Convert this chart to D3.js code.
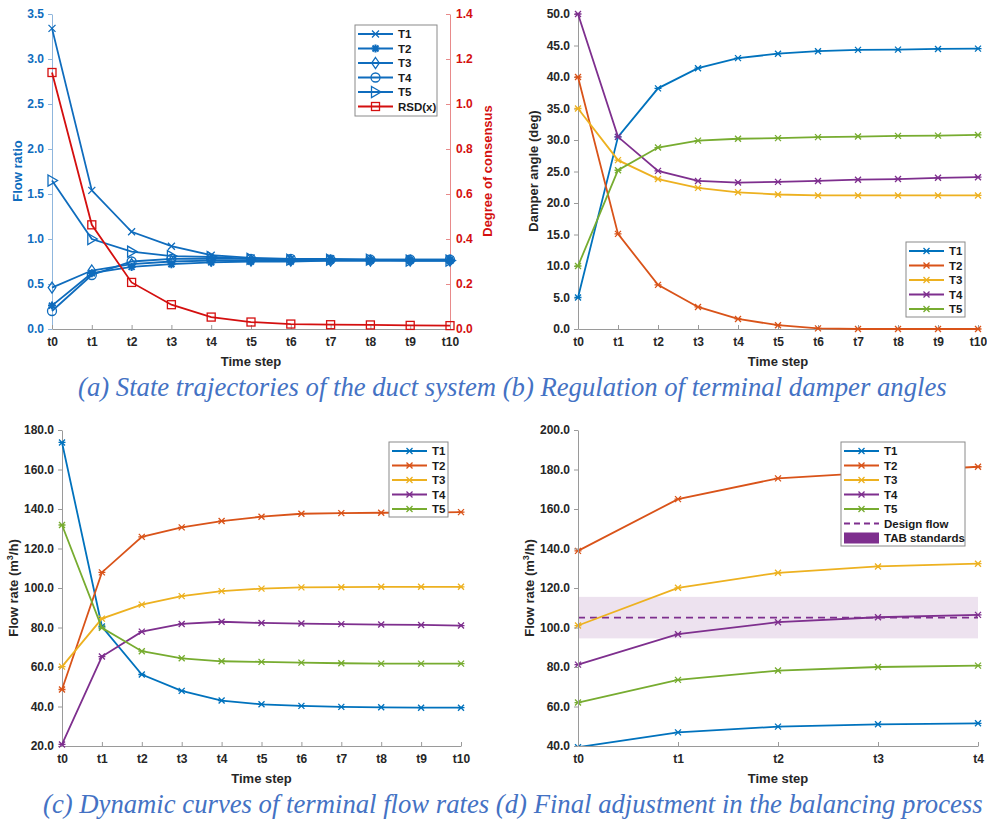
<!DOCTYPE html>
<html>
<head>
<meta charset="utf-8">
<script src="https://cdn.jsdelivr.net/npm/d3@7"></script>
<style>
  body { margin: 0; background: #fff; }
  text { font-family: "Liberation Sans", Arial, sans-serif; }
</style>
</head>
<body>
<script>
// time steps
var steps = ['t0','t1','t2','t3','t4','t5','t6','t7','t8','t9','t10'];
var stepsFinal = ['t0','t1','t2','t3','t4'];

// (a) flow ratio + RSD
var ratioT1 = [3.34, 1.54, 1.08, 0.92, 0.82, 0.79, 0.78, 0.78, 0.77, 0.77, 0.77];
var ratioT2 = [0.26, 0.62, 0.69, 0.72, 0.74, 0.75, 0.75, 0.76, 0.76, 0.76, 0.76];
var ratioT3 = [0.46, 0.65, 0.72, 0.75, 0.76, 0.76, 0.76, 0.76, 0.76, 0.76, 0.76];
var ratioT4 = [0.20, 0.60, 0.75, 0.78, 0.78, 0.78, 0.78, 0.77, 0.77, 0.77, 0.77];
var ratioT5 = [1.65, 1.00, 0.86, 0.81, 0.80, 0.78, 0.77, 0.77, 0.77, 0.76, 0.76];
var rsd     = [1.14, 0.463, 0.207, 0.108, 0.053, 0.031, 0.022, 0.019, 0.018, 0.016, 0.015];

// (b) damper angles
var angleT1 = [5.0, 30.5, 38.2, 41.4, 43.0, 43.7, 44.1, 44.3, 44.35, 44.45, 44.5];
var angleT2 = [40.0, 15.1, 7.0, 3.5, 1.6, 0.6, 0.1, 0.0, 0.0, 0.0, 0.0];
var angleT3 = [35.0, 26.8, 23.8, 22.4, 21.7, 21.35, 21.2, 21.2, 21.2, 21.2, 21.2];
var angleT4 = [50.0, 30.5, 25.1, 23.5, 23.25, 23.35, 23.5, 23.7, 23.8, 24.0, 24.1];
var angleT5 = [10.0, 25.2, 28.8, 29.9, 30.2, 30.3, 30.45, 30.55, 30.65, 30.7, 30.8];

// (c) flow rates
var flowT1 = [173.7, 80.5, 56.2, 47.9, 43.0, 41.1, 40.3, 39.8, 39.6, 39.4, 39.4];
var flowT2 = [48.6, 107.9, 125.9, 130.7, 133.9, 136.1, 137.6, 137.9, 138.1, 138.2, 138.4];
var flowT3 = [60.2, 84.5, 91.6, 95.9, 98.4, 99.7, 100.3, 100.4, 100.6, 100.6, 100.6];
var flowT4 = [20.8, 65.3, 77.9, 81.8, 82.9, 82.3, 82.0, 81.7, 81.5, 81.3, 81.0];
var flowT5 = [131.9, 79.8, 68.0, 64.4, 62.9, 62.6, 62.2, 61.9, 61.7, 61.7, 61.7];

// (d) final adjustment
var finalT1 = [39.4, 46.9, 49.8, 51.0, 51.5];
var finalT2 = [138.8, 165.0, 175.5, 178.5, 181.4];
var finalT3 = [101.0, 120.1, 127.7, 130.9, 132.3];
var finalT4 = [81.2, 96.6, 102.7, 105.2, 106.4];
var finalT5 = [62.0, 73.5, 78.2, 80.0, 80.7];
var designFlow = 105;
var tabBand = [94.5, 115.5];

var names = ['T1','T2','T3','T4','T5'];
var colors = ['#0072BD','#D95319','#EDB120','#7E2F8E','#77AC30'];
var blueA = '#0f6cbd', redA = '#d40f0f';
var tickColor = '#262626', axisGray = '#9a9a9a';

var svg = d3.select('body').append('svg')
  .attr('width', 987).attr('height', 821)
  .style('background', '#fff');

function marker(g, type, x, y, color) {
  var m = g.append('g').attr('transform', 'translate(' + x + ',' + y + ')')
    .attr('stroke', color).attr('fill', 'none').attr('stroke-width', 1.3);
  if (type === 'x') {
    m.append('path').attr('d', 'M-3.5,-3.5L3.5,3.5M-3.5,3.5L3.5,-3.5');
  } else if (type === 'ast') {
    m.append('path').attr('d', 'M-3,-3L3,3M-3,3L3,-3M-3.5,0L3.5,0');
  } else if (type === 'star') {
    m.append('path').attr('d', 'M-4,0L4,0M0,-4L0,4M-3,-3L3,3M-3,3L3,-3').attr('stroke-width', 2);
  } else if (type === 'diamond') {
    m.append('path').attr('d', 'M0,-5.5L3.8,0L0,5.5L-3.8,0Z');
  } else if (type === 'circle') {
    m.append('circle').attr('r', 4.5);
  } else if (type === 'tri') {
    m.append('path').attr('d', 'M-4,-5.5L5.5,0L-4,5.5Z');
  } else if (type === 'square') {
    m.append('rect').attr('x', -4).attr('y', -4).attr('width', 8).attr('height', 8);
  }
}

function series(g, x, y, labels, values, color, type, width) {
  var pts = labels.map(function (l, i) { return [x(l), y(values[i])]; });
  g.append('path')
    .attr('d', d3.line()(pts))
    .attr('fill', 'none').attr('stroke', color).attr('stroke-width', width || 1.8);
  pts.forEach(function (p) { marker(g, type, p[0], p[1], color); });
}

function styleAxis(a, lineColor, textColor) {
  a.selectAll('path.domain').attr('stroke', lineColor);
  a.selectAll('.tick line').attr('stroke', lineColor);
  a.selectAll('.tick text')
    .attr('fill', textColor)
    .style('font-size', '12px').style('font-weight', 'bold');
}

function xAxis(x, yPos, labels, label) {
  var a = svg.append('g').attr('transform', 'translate(0,' + yPos + ')')
    .call(d3.axisBottom(x).tickSize(-4).tickSizeOuter(0).tickPadding(8));
  styleAxis(a, axisGray, tickColor);
  var r = x.range();
  svg.append('text')
    .attr('x', (r[0] + r[1]) / 2).attr('y', yPos + 37)
    .attr('text-anchor', 'middle')
    .style('font-size', '13px').style('font-weight', 'bold').attr('fill', tickColor)
    .text(label);
}

function yLabel(x, yMid, txt, color) {
  return svg.append('text')
    .attr('transform', 'translate(' + x + ',' + yMid + ') rotate(-90)')
    .attr('text-anchor', 'middle')
    .style('font-size', '13px').style('font-weight', 'bold')
    .attr('fill', color).text(txt);
}

function legend(x0, y0, w, h, rows) {
  var lg = svg.append('g');
  lg.append('rect').attr('x', x0).attr('y', y0).attr('width', w).attr('height', h)
    .attr('fill', '#fff').attr('stroke', '#8a8a8a').attr('stroke-width', 1);
  rows.forEach(function (r, i) {
    var yy = y0 + 9 + i * 14.5;
    if (r.kind === 'patch') {
      lg.append('rect').attr('x', x0 + 3).attr('y', yy - 5.5).attr('width', 35).attr('height', 11)
        .attr('fill', r.color);
    } else {
      lg.append('line').attr('x1', x0 + 3).attr('x2', x0 + 38).attr('y1', yy).attr('y2', yy)
        .attr('stroke', r.color).attr('stroke-width', r.width || 1.8)
        .attr('stroke-dasharray', r.kind === 'dash' ? '6,4' : null);
      if (r.marker) marker(lg, r.marker, x0 + 20.5, yy, r.color);
    }
    lg.append('text').attr('x', x0 + 43).attr('y', yy + 4)
      .style('font-size', '11.5px').style('font-weight', 'bold').attr('fill', '#1a1a1a')
      .text(r.name);
  });
}

// ---------- (a) ----------
var xa = d3.scalePoint().domain(steps).range([52, 450]);
var ya = d3.scaleLinear().domain([0, 3.5]).range([329, 14]);
var yaR = d3.scaleLinear().domain([0, 1.4]).range([329, 14]);

var axA = svg.append('g').attr('transform', 'translate(52,0)')
  .call(d3.axisLeft(ya).tickValues(d3.range(0, 3.51, 0.5)).tickFormat(d3.format('.1f'))
    .tickSize(4).tickSizeOuter(0).tickPadding(4));
styleAxis(axA, '#8fb6dd', blueA);
var axAR = svg.append('g').attr('transform', 'translate(450,0)')
  .call(d3.axisRight(yaR).tickValues(d3.range(0, 1.41, 0.2)).tickFormat(d3.format('.1f'))
    .tickSize(-4).tickSizeOuter(0).tickPadding(6));
styleAxis(axAR, '#e88a8a', redA);
xAxis(xa, 329, steps, 'Time step');
yLabel(22, 171, 'Flow ratio', blueA);
yLabel(492, 171, 'Degree of consensus', redA);

var gA = svg.append('g');
series(gA, xa, ya, steps, ratioT1, blueA, 'x');
series(gA, xa, ya, steps, ratioT2, blueA, 'star');
series(gA, xa, ya, steps, ratioT3, blueA, 'diamond');
series(gA, xa, ya, steps, ratioT4, blueA, 'circle');
series(gA, xa, ya, steps, ratioT5, blueA, 'tri');
series(gA, xa, yaR, steps, rsd, redA, 'square');

legend(355, 25, 82, 91, [
  {name: 'T1', color: blueA, marker: 'x'},
  {name: 'T2', color: blueA, marker: 'star'},
  {name: 'T3', color: blueA, marker: 'diamond'},
  {name: 'T4', color: blueA, marker: 'circle'},
  {name: 'T5', color: blueA, marker: 'tri'},
  {name: 'RSD(x)', color: redA, marker: 'square'}
]);

// ---------- (b) ----------
var xb = d3.scalePoint().domain(steps).range([578, 978]);
var yb = d3.scaleLinear().domain([0, 50]).range([329, 14]);
var axB = svg.append('g').attr('transform', 'translate(578,0)')
  .call(d3.axisLeft(yb).tickValues(d3.range(0, 50.1, 5)).tickFormat(d3.format('.1f'))
    .tickSize(4).tickSizeOuter(0).tickPadding(4));
styleAxis(axB, axisGray, tickColor);
xAxis(xb, 329, steps, 'Time step');
yLabel(538, 171, 'Damper angle (deg)', tickColor);

var gB = svg.append('g');
[angleT1, angleT2, angleT3, angleT4, angleT5].forEach(function (v, i) {
  series(gB, xb, yb, steps, v, colors[i], 'ast');
});
legend(906, 242, 59, 75, names.map(function (n, i) { return {name: n, color: colors[i], marker: 'ast'}; }));

// ---------- (c) ----------
var xc = d3.scalePoint().domain(steps).range([62, 461]);
var yc = d3.scaleLinear().domain([20, 180]).range([746, 430]);
var axC = svg.append('g').attr('transform', 'translate(62,0)')
  .call(d3.axisLeft(yc).tickValues(d3.range(20, 180.1, 20)).tickFormat(d3.format('.1f'))
    .tickSize(4).tickSizeOuter(0).tickPadding(4));
styleAxis(axC, axisGray, tickColor);
xAxis(xc, 746, steps, 'Time step');
var lc = yLabel(18, 588, '', tickColor);
lc.append('tspan').text('Flow rate (m');
lc.append('tspan').attr('dy', -5).style('font-size', '9px').text('3');
lc.append('tspan').attr('dy', 5).text('/h)');

var gC = svg.append('g');
[flowT1, flowT2, flowT3, flowT4, flowT5].forEach(function (v, i) {
  series(gC, xc, yc, steps, v, colors[i], 'ast');
});
legend(389, 442, 59, 75, names.map(function (n, i) { return {name: n, color: colors[i], marker: 'ast'}; }));

// ---------- (d) ----------
var xd = d3.scalePoint().domain(stepsFinal).range([578, 978]);
var yd = d3.scaleLinear().domain([40, 200]).range([746, 430]);
svg.append('clipPath').attr('id', 'clipD').append('rect')
  .attr('x', 570).attr('y', 425).attr('width', 420).attr('height', 321);

var gD = svg.append('g').attr('clip-path', 'url(#clipD)');
gD.append('rect')
  .attr('x', xd('t0')).attr('width', xd('t4') - xd('t0'))
  .attr('y', yd(tabBand[1])).attr('height', yd(tabBand[0]) - yd(tabBand[1]))
  .attr('fill', '#7E2F8E').attr('fill-opacity', 0.14);
gD.append('line')
  .attr('x1', xd('t0')).attr('x2', xd('t4'))
  .attr('y1', yd(designFlow)).attr('y2', yd(designFlow))
  .attr('stroke', '#7E2F8E').attr('stroke-width', 1.8).attr('stroke-dasharray', '7,5');
[finalT1, finalT2, finalT3, finalT4, finalT5].forEach(function (v, i) {
  series(gD, xd, yd, stepsFinal, v, colors[i], 'ast');
});

var axD = svg.append('g').attr('transform', 'translate(578,0)')
  .call(d3.axisLeft(yd).tickValues(d3.range(40, 200.1, 20)).tickFormat(d3.format('.1f'))
    .tickSize(4).tickSizeOuter(0).tickPadding(4));
styleAxis(axD, axisGray, tickColor);
xAxis(xd, 746, stepsFinal, 'Time step');
var ld = yLabel(534, 588, '', tickColor);
ld.append('tspan').text('Flow rate (m');
ld.append('tspan').attr('dy', -5).style('font-size', '9px').text('3');
ld.append('tspan').attr('dy', 5).text('/h)');

var rowsD = names.map(function (n, i) { return {name: n, color: colors[i], marker: 'ast'}; });
rowsD.push({name: 'Design flow', color: '#7E2F8E', kind: 'dash'});
rowsD.push({name: 'TAB standards', color: '#7E2F8E', kind: 'patch'});
legend(841, 442, 124, 104, rowsD);

// ---------- captions ----------
function caption(x, y, txt) {
  svg.append('text').attr('x', x).attr('y', y)
    .style('font-family', '"Liberation Serif", "Times New Roman", serif')
    .style('font-style', 'italic').style('font-size', '26.7px')
    .attr('fill', '#4472C4').text(txt);
}
caption(78, 396, '(a) State trajectories of the duct system (b) Regulation of terminal damper angles');
caption(43, 813, '(c) Dynamic curves of terminal flow rates (d) Final adjustment in the balancing process');
</script>
</body>
</html>
